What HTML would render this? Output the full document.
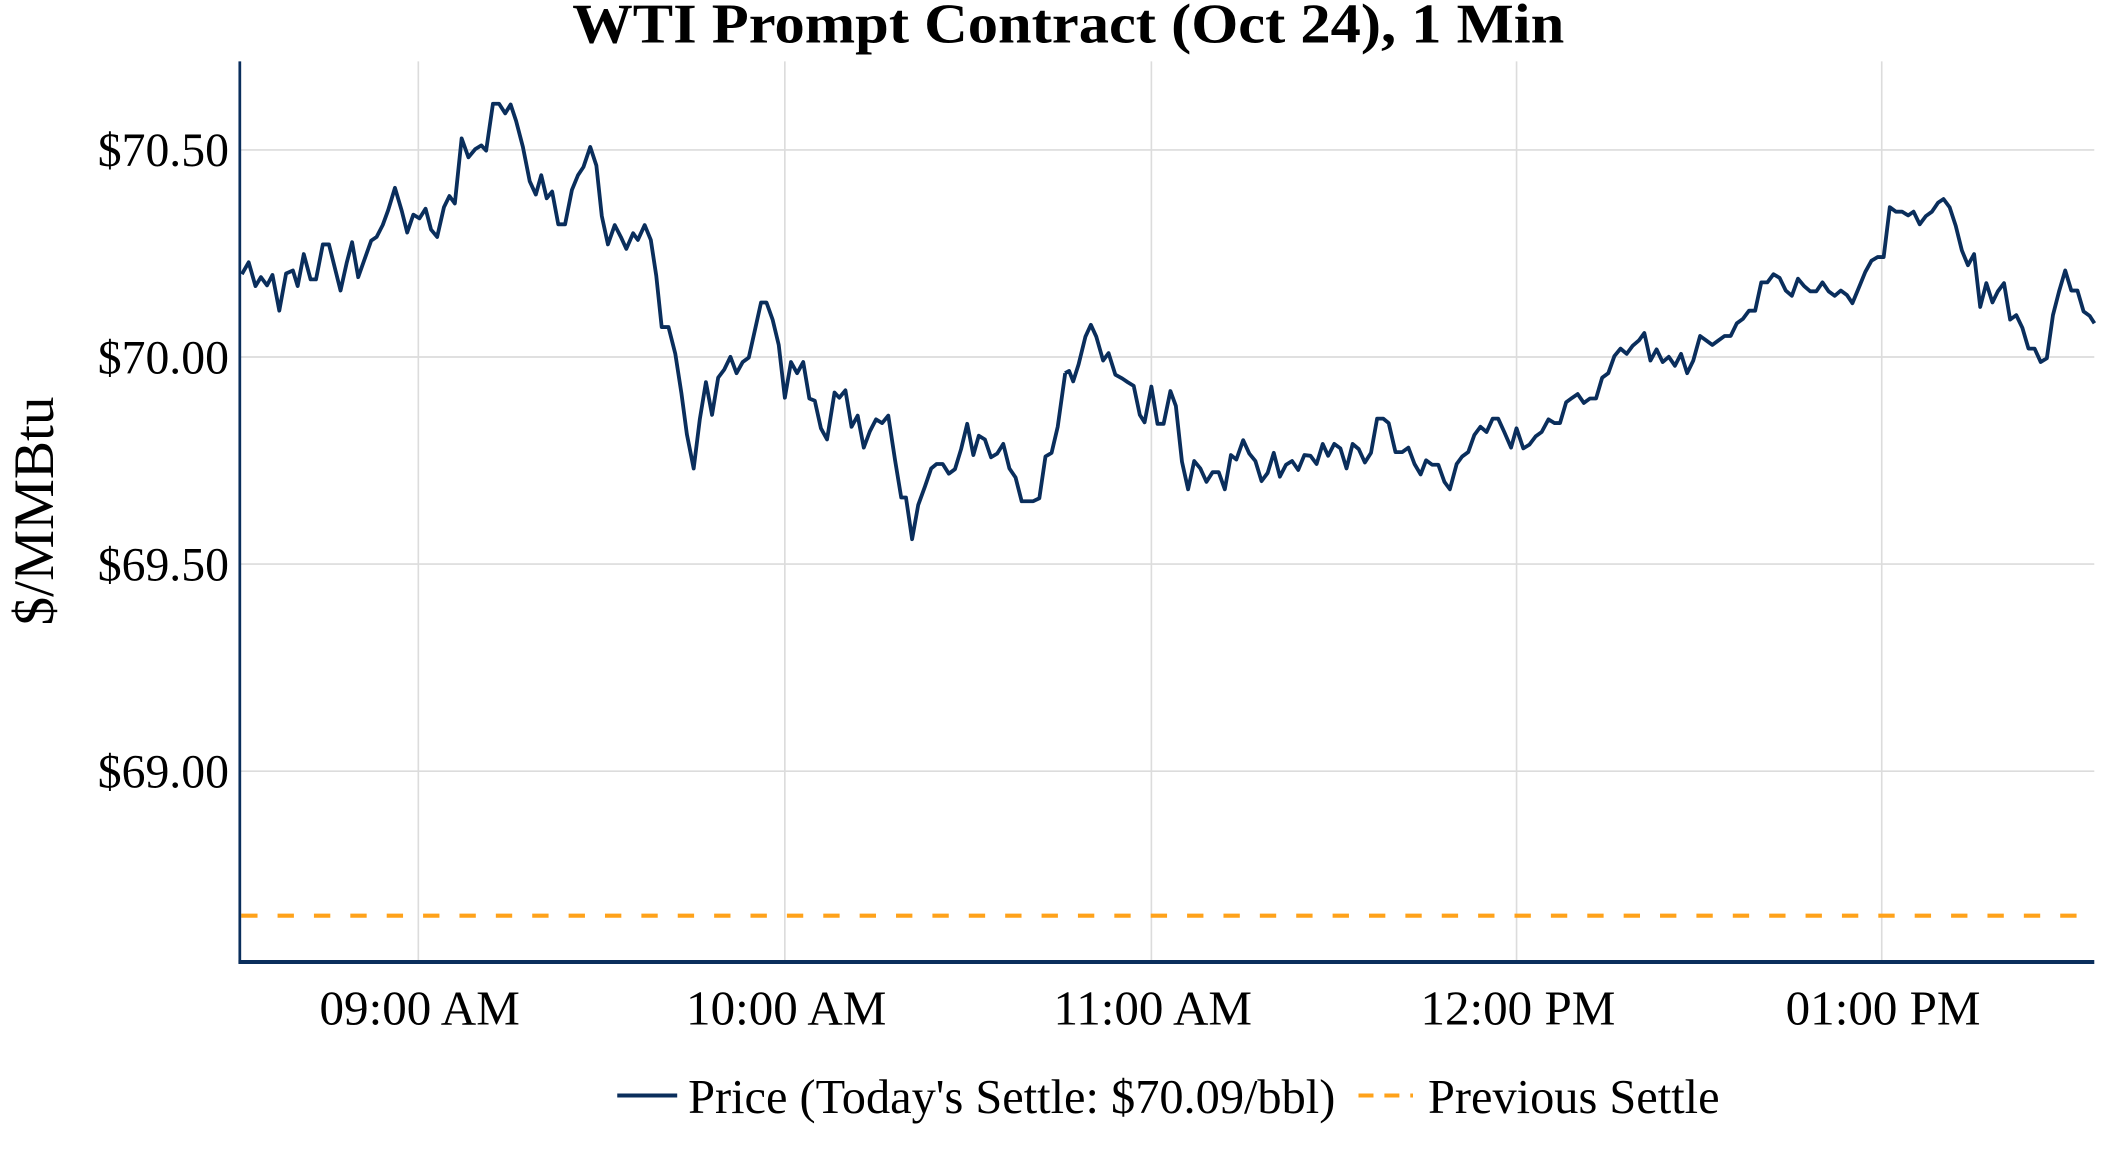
<!DOCTYPE html>
<html><head><meta charset="utf-8"><style>
html,body{margin:0;padding:0;background:#fff;}
svg{display:block;}
text{font-family:"Liberation Serif","Times New Roman",serif;fill:#000;}
</style></head><body>
<svg width="2112" height="1152" viewBox="0 0 1550 845.45" xmlns="http://www.w3.org/2000/svg">
<rect width="1550" height="846" fill="#fff"/>
<text x="784" y="31" text-anchor="middle" font-size="41" font-weight="bold" textLength="728" lengthAdjust="spacingAndGlyphs">WTI Prompt Contract (Oct 24), 1 Min</text>
<g stroke="#dcdcdc" stroke-width="1.2">
<line x1="307" y1="45" x2="307" y2="706"/><line x1="576" y1="45" x2="576" y2="706"/><line x1="845" y1="45" x2="845" y2="706"/><line x1="1113" y1="45" x2="1113" y2="706"/><line x1="1381" y1="45" x2="1381" y2="706"/>
<line x1="176" y1="110" x2="1537" y2="110"/><line x1="176" y1="262" x2="1537" y2="262"/><line x1="176" y1="414" x2="1537" y2="414"/><line x1="176" y1="566" x2="1537" y2="566"/>
</g>
<g font-size="35" text-anchor="end">
<text x="168" y="122">$70.50</text><text x="168" y="274">$70.00</text><text x="168" y="426">$69.50</text><text x="168" y="578">$69.00</text>
</g>
<g font-size="36" text-anchor="middle">
<text x="308" y="752">09:00 AM</text><text x="577" y="752">10:00 AM</text><text x="846" y="752">11:00 AM</text><text x="1114" y="752">12:00 PM</text><text x="1382" y="752">01:00 PM</text>
</g>
<text transform="translate(39,375) rotate(-90)" text-anchor="middle" font-size="42">$/MMBtu</text>
<line x1="177" y1="672" x2="1530" y2="672" stroke="#ffa21a" stroke-width="3" stroke-dasharray="12,14.7"/>
<g fill="none" stroke="#0a2e5c" stroke-width="3.8" stroke-linejoin="round">
<polyline vector-effect="non-scaling-stroke" transform="matrix(0.49938 0 0 0.27314 0.2217 -0.894)" points="355,740 365,708 375,772 383,748 392,770 400,742 410,838 420,738 430,730 437,772 446,686 456,754 464,754 474,660 483,660 500,784 509,710 517,654 526,748 545,650 553,640 562,608 570,568 580,508 590,570 598,628 607,580 616,590 625,564 633,620 642,640 652,560 660,530 668,550 678,375 688,426 698,404 707,394 714,408 724,282 733,282 742,308 750,284 758,328 768,398 778,490 787,526 795,474 803,536 811,518 820,606 830,606 840,514 849,474 857,452 867,398 876,448 884,584 893,660 903,608 912,640 920,672 930,630 937,648 947,608 956,648 964,744 972,882 982,882 992,954 1001,1060 1009,1170 1019,1262 1028,1130 1037,1030 1046,1118 1055,1018 1064,996 1073,962 1082,1006 1091,976 1100,964 1110,882 1118,816 1126,816 1135,862 1144,930 1153,1072 1162,976 1171,1006 1180,976 1189,1074 1197,1080 1206,1154 1215,1184 1226,1058 1233,1072 1242,1052 1251,1150 1260,1120 1269,1206 1278,1162 1287,1130 1296,1140 1305,1120 1315,1240 1324,1340 1331,1340 1340,1452 1349,1360 1359,1310 1368,1262 1376,1250 1385,1250 1394,1276 1403,1264 1412,1210 1421,1142 1430,1226 1438,1174 1447,1184 1456,1232 1465,1222 1474,1196 1483,1262 1492,1286 1501,1350 1518,1350 1527,1342 1536,1230 1545,1220 1554,1150 1565,1006"/>
<polyline vector-effect="non-scaling-stroke" transform="matrix(0.499 0 0 0.27314 784.62 -0.894)" points="-6,1006 0,1000 6,1028 14,982 24,908 32,876 40,908 50,972 58,952 68,1010 78,1020 86,1030 95,1040 104,1118 111,1138 121,1042 130,1142 139,1142 149,1054 157,1094 166,1244 175,1318 184,1242 193,1262 202,1298 211,1272 220,1272 229,1318 238,1226 246,1238 256,1186 265,1222 274,1242 283,1296 292,1274 301,1220 310,1284 319,1252 328,1242 337,1266 346,1226 355,1228 364,1250 373,1196 381,1228 390,1196 399,1208 408,1262 417,1196 426,1210 435,1246 444,1220 453,1128 462,1128 470,1140 480,1218 490,1218 499,1206 508,1250 517,1278 525,1240 534,1252 543,1252 552,1298 560,1318 570,1250 578,1230 587,1218 596,1172 605,1150 614,1164 623,1128 631,1128 640,1164 650,1206 658,1154 668,1208 677,1198 686,1176 695,1164 705,1130 714,1140 722,1140 731,1084 740,1072 748,1062 757,1086 766,1074 775,1074 784,1018 793,1006 802,960 811,940 820,954 829,932 838,918 846,898 855,972 864,942 873,976 882,962 891,986 900,954 909,1006 918,972 928,906 937,918 946,930 955,918 964,906 973,906 982,872 991,860 1000,838 1009,838 1018,762 1027,762 1036,740 1045,750 1054,784 1063,798 1072,752 1081,772 1090,786 1099,786 1108,762 1117,786 1126,798 1135,784 1144,796 1152,818 1162,774 1171,734 1180,704 1189,694 1198,694 1207,560 1216,572 1225,572 1234,582 1242,572 1251,606 1260,584 1269,572 1278,548 1286,538 1295,560 1304,610 1313,676 1322,716 1331,686 1340,828 1349,764 1358,816 1366,786 1375,764 1384,862 1393,850 1402,884 1411,940 1420,940 1429,976 1438,966 1447,850 1456,786 1465,730 1474,784 1483,784 1492,840 1501,852 1508,872"/>
</g>
<line x1="176" y1="45" x2="176" y2="707" stroke="#0a2e5c" stroke-width="2"/>
<line x1="175" y1="706" x2="1537" y2="706" stroke="#0a2e5c" stroke-width="3"/>
<line x1="453" y1="804" x2="497" y2="804" stroke="#0a2e5c" stroke-width="3"/>
<text x="505" y="817" font-size="35.5" textLength="475" lengthAdjust="spacingAndGlyphs">Price (Today's Settle: $70.09/bbl)</text>
<line x1="997" y1="804" x2="1037" y2="804" stroke="#ffa21a" stroke-width="3" stroke-dasharray="11,8"/>
<text x="1048" y="817" font-size="35.5" textLength="214" lengthAdjust="spacingAndGlyphs">Previous Settle</text>
</svg>
</body></html>
